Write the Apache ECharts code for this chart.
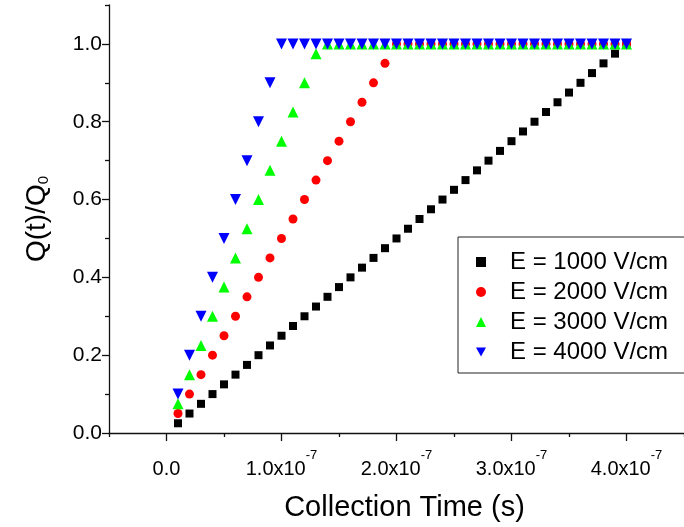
<!DOCTYPE html>
<html>
<head>
<meta charset="utf-8">
<script src="https://cdn.jsdelivr.net/npm/echarts@6/dist/echarts.min.js"></script>
<style>html,body{margin:0;padding:0;background:#fff}#c{width:684px;height:527px}</style>
</head>
<body>
<div id="c"></div>
<script>
// Collection time (s)
const time = [1e-8,2e-8,3e-8,4e-8,5e-8,6e-8,7e-8,8e-8,9e-8,10e-8,
  11e-8,12e-8,13e-8,14e-8,15e-8,16e-8,17e-8,18e-8,19e-8,20e-8,
  21e-8,22e-8,23e-8,24e-8,25e-8,26e-8,27e-8,28e-8,29e-8,30e-8,
  31e-8,32e-8,33e-8,34e-8,35e-8,36e-8,37e-8,38e-8,39e-8,40e-8];
const q1000 = [0.025,0.05,0.075,0.1,0.125,0.15,0.175,0.2,0.225,0.25,
  0.275,0.3,0.325,0.35,0.375,0.4,0.425,0.45,0.475,0.5,
  0.525,0.55,0.575,0.6,0.625,0.65,0.675,0.7,0.725,0.75,
  0.775,0.8,0.825,0.85,0.875,0.9,0.925,0.95,0.975,1.0];
const q2000 = [0.05,0.1,0.15,0.2,0.25,0.3,0.35,0.4,0.45,0.5,
  0.55,0.6,0.65,0.7,0.75,0.8,0.85,0.9,0.95,1.0,
  1.0,1.0,1.0,1.0,1.0,1.0,1.0,1.0,1.0,1.0,
  1.0,1.0,1.0,1.0,1.0,1.0,1.0,1.0,1.0,1.0];
const q3000 = [0.075,0.15,0.225,0.3,0.375,0.45,0.525,0.6,0.675,0.75,
  0.825,0.9,0.975,1.0,1.0,1.0,1.0,1.0,1.0,1.0,
  1.0,1.0,1.0,1.0,1.0,1.0,1.0,1.0,1.0,1.0,
  1.0,1.0,1.0,1.0,1.0,1.0,1.0,1.0,1.0,1.0];
const q4000 = [0.1,0.2,0.3,0.4,0.5,0.6,0.7,0.8,0.9,1.0,
  1.0,1.0,1.0,1.0,1.0,1.0,1.0,1.0,1.0,1.0,
  1.0,1.0,1.0,1.0,1.0,1.0,1.0,1.0,1.0,1.0,
  1.0,1.0,1.0,1.0,1.0,1.0,1.0,1.0,1.0,1.0];
const seriesNames = ['E = 1000 V/cm','E = 2000 V/cm','E = 3000 V/cm','E = 4000 V/cm'];
const xMajorTicks = [0,1e-7,2e-7,3e-7,4e-7];
const xMinorTicks = [-0.5e-7,0.5e-7,1.5e-7,2.5e-7,3.5e-7,4.5e-7];
const yMajorTicks = [0,0.2,0.4,0.6,0.8,1.0];
const yMinorTicks = [0.1,0.3,0.5,0.7,0.9,1.1];

const FONT = 'Liberation Sans, Arial, sans-serif';
const pairs = arr => time.map((t,i)=>[t,arr[i]]);
const lineStyle = {color:'#111', width:1.3};
const DOWN_TRI = 'path://M0,0L10,0L5,9Z';

const chart = echarts.init(document.getElementById('c'));
chart.setOption({
  animation:false,
  backgroundColor:'#fff',
  grid:{left:109, top:5, width:582, height:430},
  xAxis:[{
    type:'value', min:-0.5e-7, max:4.5e-7,
    splitLine:{show:false},
    axisLine:{show:true, onZero:false, lineStyle},
    axisTick:{show:true, length:8, customValues:xMajorTicks, lineStyle},
    axisLabel:{customValues:xMajorTicks, margin:16, color:'#000', fontFamily:FONT, fontSize:20,
      formatter:v => Math.abs(v) < 1e-12 ? '{n|0.0}' : '{n|'+(v/1e-7).toFixed(1)+'x10}{sup|-7}',
      rich:{
        n:{fontSize:20, lineHeight:30, fontFamily:FONT, color:'#000', verticalAlign:'bottom'},
        sup:{fontSize:13, lineHeight:13, verticalAlign:'top', fontFamily:FONT, color:'#000'}}},
    name:'Collection Time (s)', nameLocation:'middle', nameGap:60,
    nameTextStyle:{fontSize:29, color:'#000', fontFamily:FONT, padding:[0,0,0,16]}
  },{
    type:'value', min:-0.5e-7, max:4.5e-7, position:'bottom',
    splitLine:{show:false}, axisLine:{show:false, onZero:false},
    axisTick:{show:true, length:4, customValues:xMinorTicks, lineStyle},
    axisLabel:{show:false}
  }],
  yAxis:[{
    type:'value', min:0, max:1.1,
    splitLine:{show:false},
    axisLine:{show:true, onZero:false, lineStyle},
    axisTick:{show:true, length:7, customValues:yMajorTicks, lineStyle},
    axisLabel:{customValues:yMajorTicks, margin:7, color:'#000', fontFamily:FONT, fontSize:21,
      formatter:v => v.toFixed(1)},
    name:'Q(t)/Q{sub|0}', nameLocation:'middle', nameGap:58, nameRotate:90,
    nameTextStyle:{fontSize:28, color:'#000', fontFamily:FONT,
      rich:{sub:{fontSize:15, fontFamily:FONT, color:'#000', verticalAlign:'bottom', padding:[12,0,0,0]}}}
  },{
    type:'value', min:0, max:1.1, position:'left',
    splitLine:{show:false}, axisLine:{show:false, onZero:false},
    axisTick:{show:true, length:4, customValues:yMinorTicks, lineStyle},
    axisLabel:{show:false}
  }],
  legend:{
    orient:'vertical', left:458, top:237,
    borderColor:'#222', borderWidth:1,
    padding:[13,20,9,18],
    itemWidth:10, itemHeight:10, itemGap:6,
    textStyle:{fontSize:24, lineHeight:24, color:'#000', fontFamily:FONT, padding:[0,0,0,19]},
    data:[
      {name:seriesNames[0]},
      {name:seriesNames[1]},
      {name:seriesNames[2]},
      {name:seriesNames[3], icon:DOWN_TRI}
    ]
  },
  series:[
    {name:seriesNames[0], type:'scatter', data:pairs(q1000), symbol:'rect', symbolSize:8, itemStyle:{color:'#000000', opacity:1}},
    {name:seriesNames[1], type:'scatter', data:pairs(q2000), symbol:'circle', symbolSize:9, itemStyle:{color:'#ff0000', opacity:1}},
    {name:seriesNames[2], type:'scatter', data:pairs(q3000), symbol:'triangle', symbolSize:11, itemStyle:{color:'#00ff00', opacity:1}},
    {name:seriesNames[3], type:'scatter', data:pairs(q4000), symbol:'triangle', symbolRotate:180, symbolSize:11, itemStyle:{color:'#0000ff', opacity:1}}
  ]
});
</script>
</body>
</html>
